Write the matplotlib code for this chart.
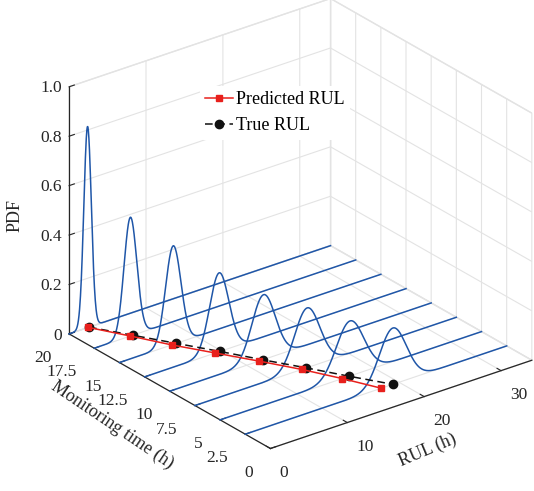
import numpy as np
import matplotlib
matplotlib.use("Agg")
import matplotlib.pyplot as plt
from mpl_toolkits.mplot3d import proj3d

# data
monitor_times = [20, 17.5, 15, 12.5, 10, 7.5, 5, 2.5]
pdf_means = [2.4, 4.7, 7.0, 9.7, 12.2, 14.6, 16.9, 19.2]
pdf_sigmas = [0.49, 0.83, 1.0, 1.25, 1.52, 1.65, 1.79, 1.75]
true_rul = [2.6, 5.0, 7.4, 9.8, 12.1, 14.5, 16.8, 19.2]
pred_rul = [2.5, 4.7, 6.8, 9.2, 11.6, 13.9, 15.9, 17.7]

rul_max = 34
x_ticks = [0, 10, 20, 30]
y_ticks = [0, 2.5, 5, 7.5, 10, 12.5, 15, 17.5, 20]
y_ticklabels = ["0", "2.5", "5", "7.5", "10", "12.5", "15", "17.5", "20"]
z_ticks = [0, 0.2, 0.4, 0.6, 0.8, 1.0]
z_ticklabels = ["0", "0.2", "0.4", "0.6", "0.8", "1.0"]

plt.rcParams["font.family"] = ["Liberation Serif", "DejaVu Serif"]
plt.rcParams["grid.color"] = "#e3e3e3"
plt.rcParams["grid.linewidth"] = 0.8
if "axes3d.automargin" in plt.rcParams:
    plt.rcParams["axes3d.automargin"] = False

W, H = 534, 491
fig = plt.figure(figsize=(W / 100, H / 100), dpi=100)
ax = fig.add_axes([0.05, 0.05, 0.9, 0.9], projection="3d",
                  computed_zorder=False)
ax.set_proj_type("ortho")
ax.view_init(elev=26, azim=-127.6)
ax.set_box_aspect((1.2, 1.2, 1.0))

blue = "#1f56a8"
rul = np.linspace(0, rul_max, 900)
for t, mu, sd in zip(monitor_times, pdf_means, pdf_sigmas):
    pdf = np.exp(-0.5 * ((rul - mu) / sd) ** 2) / (sd * np.sqrt(2 * np.pi))
    ax.plot(rul, np.full_like(rul, t), pdf, color=blue, lw=1.1)

zeros = np.zeros(len(monitor_times))
ax.plot(true_rul, monitor_times, zeros, color="#111111", lw=1.1,
        ls=(0, (5, 3)), marker="o", ms=6, label="True RUL")
ax.plot(pred_rul, monitor_times, zeros, color="#e8201c", lw=1.1,
        marker="s", ms=5, label="Predicted RUL")

ax.set_xlim(0, rul_max)
ax.set_ylim(0, 20)
ax.set_zlim(0, 1)
ax.set_xticks(x_ticks)
ax.set_yticks(y_ticks)
ax.set_yticklabels(y_ticklabels)
ax.set_zticks(z_ticks)
ax.set_zticklabels(z_ticklabels)
ax.tick_params(labelsize=12.5, colors="#262626")
ax.xaxis.set_tick_params(pad=1)
ax.yaxis.set_tick_params(pad=5)
ax.zaxis.set_tick_params(pad=-5)
for lab in ax.get_xticklabels():
    lab.set_ha("left")
for lab in ax.get_yticklabels():
    lab.set_ha("right")
    lab.set_va("center_baseline")
for lab in ax.get_zticklabels():
    lab.set_ha("right")
    lab.set_va("center_baseline")

# axis titles placed like the reference (rotated along the box edges)
ax.set_xlabel("")
ax.set_ylabel("")
ax.set_zlabel("")
fig.text(428 / W, 1 - 450 / H, "RUL (h)", fontsize=13, rotation=23,
         ha="center", va="center", color="#262626")
fig.text(112 / W, 1 - 425 / H, "Monitoring time (h)", fontsize=13,
         rotation=-34, ha="center", va="center", color="#262626")
fig.text(15 / W, 1 - 216 / H, "PDF", fontsize=13, rotation=90,
         ha="center", va="center", color="#262626")

for axis in (ax.xaxis, ax.yaxis, ax.zaxis):
    axis.set_pane_color((1, 1, 1, 1))
    axis.pane.set_edgecolor("#e3e3e3")
    axis.line.set_color("#262626")
    axis.line.set_linewidth(0.9)
    axis._axinfo["tick"]["inward_factor"] = 0.0
    axis._axinfo["tick"]["outward_factor"] = 0.25
    axis._axinfo["tick"]["color"] = "#262626"

handles, labels = ax.get_legend_handles_labels()
leg = ax.legend(handles[::-1], labels[::-1], loc="upper left",
                bbox_to_anchor=(200 / W, 1 - 86 / H),
                bbox_transform=fig.transFigure, fontsize=13,
                frameon=True, facecolor="white", edgecolor="none",
                framealpha=1, borderpad=0.3, handlelength=1.5,
                handletextpad=0.2, labelspacing=0.5, borderaxespad=0)

# fit the axes box onto the reference box corners (pixel positions)
corners = [(0, 0, 0), (0, 20, 0), (rul_max, 0, 0), (0, 20, 1), (rul_max, 20, 1)]
targets = np.array([(271, 448), (68, 333), (533, 360), (68, 85), (331, 2)], float)
targets[:, 1] = H - targets[:, 1]
for _ in range(3):
    fig.canvas.draw()
    M = ax.get_proj()
    pts = []
    for cx, cy, cz in corners:
        px, py, _ = proj3d.proj_transform(cx, cy, cz, M)
        pts.append(ax.transData.transform((px, py)))
    pts = np.array(pts)
    pm, tm = pts.mean(0), targets.mean(0)
    s = ((pts - pm) * (targets - tm)).sum() / ((pts - pm) ** 2).sum()
    t = tm - s * pm
    pos = ax.get_position(original=True)
    l, b, w, h = pos.x0 * W, pos.y0 * H, pos.width * W, pos.height * H
    ax.set_position([(s * l + t[0]) / W, (s * b + t[1]) / H,
                     s * w / W, s * h / H])

fig.savefig("out.png", dpi=100)
